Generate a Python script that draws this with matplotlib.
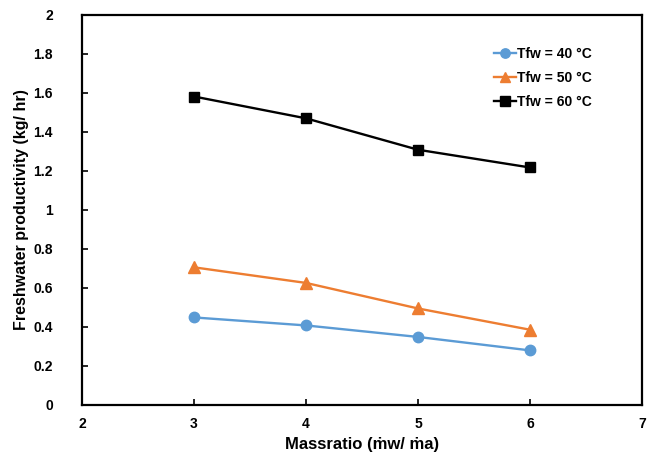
import matplotlib.pyplot as plt

# ------------------------------------------------------------
# Data
# ------------------------------------------------------------

mass_ratio = [3, 4, 5, 6]
tfw_40 = [0.449, 0.408, 0.349, 0.280]
tfw_50 = [0.706, 0.626, 0.495, 0.386]
tfw_60 = [1.582, 1.470, 1.309, 1.218]

series_labels = ["Tfw = 40 \u00b0C", "Tfw = 50 \u00b0C", "Tfw = 60 \u00b0C"]

# ------------------------------------------------------------
# Plot
# ------------------------------------------------------------

plt.rcParams["font.family"] = ["Liberation Sans", "DejaVu Sans"]
plt.rcParams["font.weight"] = "bold"

fig = plt.figure(figsize=(6.53, 4.57), dpi=100)
ax = fig.add_axes([0.1256, 0.1138, 0.8575, 0.8534])

ax.plot(mass_ratio, tfw_40, color="#5B9BD5", lw=1.7, marker="o", ms=7.5,
        label=series_labels[0])
ax.plot(mass_ratio, tfw_50, color="#ED7D31", lw=1.7, marker="^", ms=8.5,
        label=series_labels[1])
ax.plot(mass_ratio, tfw_60, color="black", lw=1.7, marker="s", ms=7.5,
        label=series_labels[2])

ax.set_xlim(2, 7)
ax.set_ylim(0, 2)
ax.set_xticks(range(2, 8))
ax.set_yticks([i * 0.2 for i in range(11)])
ax.set_yticklabels(["0", "0.2", "0.4", "0.6", "0.8", "1", "1.2", "1.4",
                    "1.6", "1.8", "2"])

ax.tick_params(direction="in", length=4, width=1.2, labelsize=10)
ax.tick_params(axis="y", pad=21)
ax.tick_params(axis="x", pad=9)
for side in ax.spines.values():
    side.set_linewidth(1.6)

ax.set_xlabel("Massratio (\u1e41w/ \u1e41a)", fontsize=12, fontweight="bold",
              labelpad=4)
ax.set_ylabel("Freshwater productivity (kg/ hr)", fontsize=11.5,
              fontweight="bold", labelpad=3)

ax.legend(loc="upper right", bbox_to_anchor=(0.933, 0.95), frameon=False,
          prop={"size": 10, "weight": "bold"}, handlelength=1.6,
          handletextpad=0.1, labelspacing=0.72, markerscale=0.9)

fig.savefig("out.png", dpi=100)
plt.close(fig)
